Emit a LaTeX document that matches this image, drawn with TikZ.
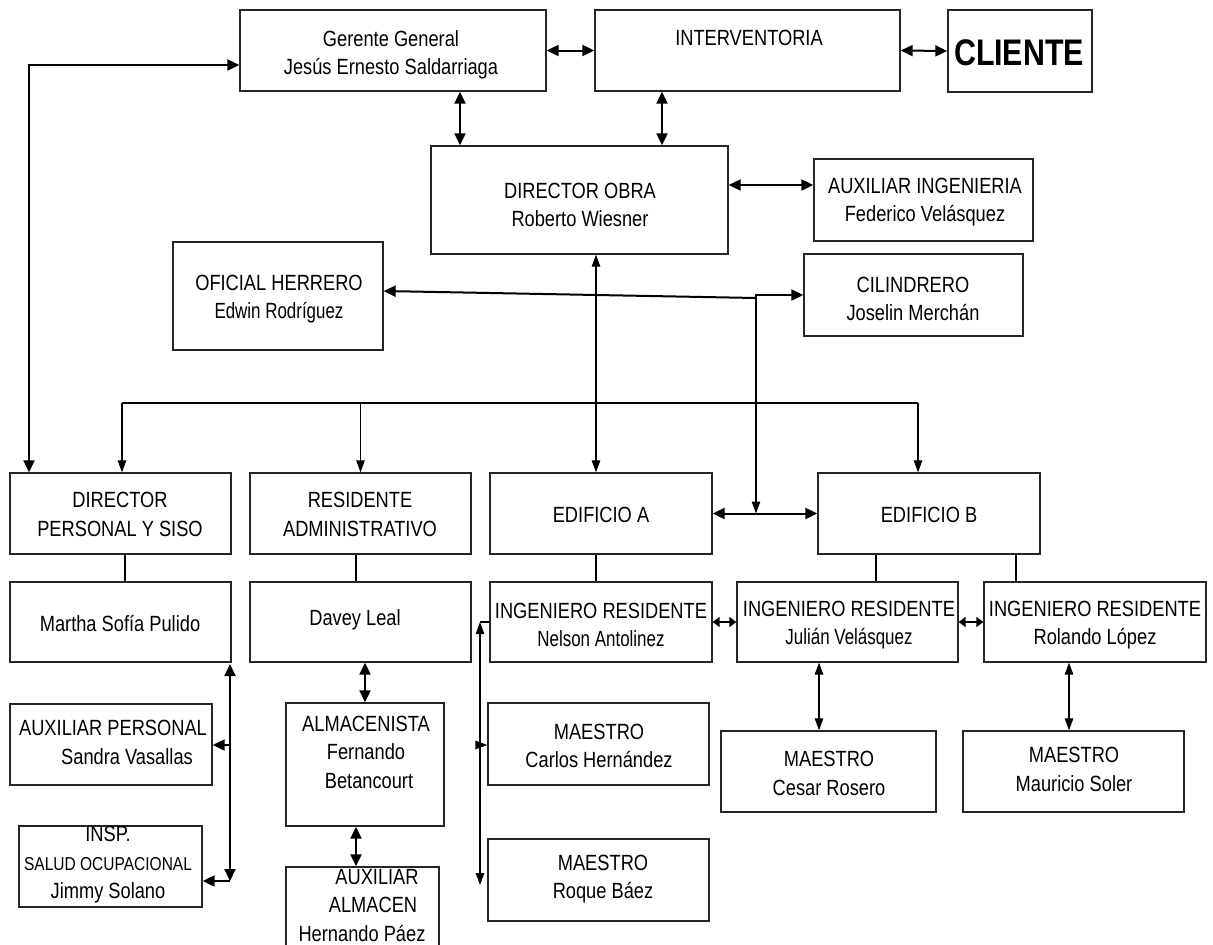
\documentclass[tikz,border=0pt]{standalone}
\usepackage{fontspec}
\setmainfont{Liberation Sans}[FakeStretch=0.83]
\newfontfamily\condfont{Liberation Sans}[FakeStretch=0.77]
\newfontfamily\boldcond{Liberation Sans}[FakeStretch=0.82,UprightFont=* Bold]
\usetikzlibrary{arrows.meta,calc}
\begin{document}
\begin{tikzpicture}[x=1pt,y=-1pt,
  box/.style={draw=black!85,line width=1.3pt,rectangle,inner sep=0pt},
  txt/.style={align=center,inner sep=0pt,font=\fontsize{22}{28.5}\selectfont},
  thk/.style={line width=2pt,>={Triangle[length=12pt,width=11pt]}},
  shortarr/.style={line width=2pt,>={Triangle[length=7pt,width=10pt]}},
  thn/.style={line width=1.1pt,>={Triangle[length=12pt,width=8.5pt]}},
  stub/.style={line width=1.1pt}]
\useasboundingbox (0,0) rectangle (1213,945);

% ---- boxes ----
\node[box,minimum width=306pt,minimum height=81pt] (gg) at (393,50.5) {};
\node[box,minimum width=305pt,minimum height=81pt] (iv) at (747.5,50.5) {};
\node[box,minimum width=144pt,minimum height=82pt] (cl) at (1020,51) {};
\node[box,minimum width=297pt,minimum height=108pt] (do) at (579.5,200) {};
\node[box,minimum width=219pt,minimum height=82pt] (ai) at (923.5,200) {};
\node[box,minimum width=210pt,minimum height=108pt] (oh) at (278,296) {};
\node[box,minimum width=219pt,minimum height=82pt] (ci) at (913.5,295) {};
\node[box,minimum width=221pt,minimum height=81pt] (dp) at (120.5,513.5) {};
\node[box,minimum width=221pt,minimum height=81pt] (ra) at (360.5,513.5) {};
\node[box,minimum width=222pt,minimum height=81pt] (ea) at (601,513.5) {};
\node[box,minimum width=222pt,minimum height=81pt] (eb) at (929,513.5) {};
\node[box,minimum width=221pt,minimum height=80pt] (mp) at (120.5,622) {};
\node[box,minimum width=221pt,minimum height=80pt] (dl) at (360.5,622) {};
\node[box,minimum width=222pt,minimum height=80pt] (r1) at (601,622) {};
\node[box,minimum width=221pt,minimum height=80pt] (r2) at (847.5,622) {};
\node[box,minimum width=222pt,minimum height=80pt] (r3) at (1095,622) {};
\node[box,minimum width=202pt,minimum height=81pt] (ap) at (111,744.5) {};
\node[box,minimum width=158pt,minimum height=123pt] (al) at (365,764.5) {};
\node[box,minimum width=221pt,minimum height=82pt] (mc) at (598.5,744) {};
\node[box,minimum width=215pt,minimum height=81pt] (ms) at (828.5,771.5) {};
\node[box,minimum width=221pt,minimum height=81pt] (mm) at (1073.5,771.5) {};
\node[box,minimum width=183pt,minimum height=81pt] (is) at (110.5,866.5) {};
\node[box,minimum width=153pt,minimum height=86pt] (aa) at (362.5,910) {};
\node[box,minimum width=221pt,minimum height=82pt] (mr) at (598.5,880) {};

% ---- texts ----
\node[txt] (tgg) at (391,55) {Gerente General\\Jesús Ernesto Saldarriaga};
\node[txt] (tiv) at (749,38) {INTERVENTORIA};
\node[inner sep=0pt,font=\boldcond\fontsize{37}{40}\selectfont] (tcl) at (1019,53) {CLIENTE};
\node[txt] (tdo) at (580,205) {DIRECTOR OBRA\\Roberto Wiesner};
\node[txt] (tai) at (925,202) {AUXILIAR INGENIERIA\\Federico Velásquez};
\node[txt] (toh) at (279,299) {OFICIAL HERRERO\\{\condfont Edwin Rodríguez}};
\node[txt] (tci) at (913,299) {CILINDRERO\\Joselin Merchán};
\node[txt] (tdp) at (120,514.5) {DIRECTOR\\PERSONAL Y SISO};
\node[txt] (tra) at (360,514.5) {RESIDENTE\\ADMINISTRATIVO};
\node[txt] (tea) at (601,515) {EDIFICIO A};
\node[txt] (teb) at (929,515) {EDIFICIO B};
\node[txt] (tmp) at (120,623) {Martha Sofía Pulido};
\node[txt] (tdl) at (355,620) {Davey Leal};
\node[txt] (tr1) at (601,625) {INGENIERO RESIDENTE\\{\condfont Nelson Antolinez}};
\node[txt] (tr2) at (849,625) {INGENIERO RESIDENTE\\{\condfont Julián Velásquez}};
\node[txt] (tr3) at (1095,625) {INGENIERO RESIDENTE\\Rolando López};
\node[txt] (tap) at (113,742.5) {AUXILIAR PERSONAL\\\hspace*{28pt}Sandra Vasallas};
\node[txt] (tal) at (366,752) {ALMACENISTA\\Fernando\\\hspace*{6pt}Betancourt};
\node[txt] (tmc) at (599,746) {MAESTRO\\Carlos Hernández};
\node[txt] (tms) at (829,773.5) {MAESTRO\\Cesar Rosero};
\node[txt] (tmm) at (1074,769.5) {MAESTRO\\Mauricio Soler};
\node[txt] (tis) at (108,865) {INSP.\\{\fontsize{18.7}{27}\selectfont SALUD OCUPACIONAL}\\Jimmy Solano};
\node[txt] (taa) at (362,905.5) {\hspace*{30pt}AUXILIAR\\\hspace*{22pt}ALMACEN\\Hernando Páez};
\node[txt] (tmr) at (603,879) {MAESTRO\\Roque Báez};

% ---- junction points ----
\coordinate (lft) at (29,65);
\coordinate (hj) at (756,298);
\coordinate (busL) at (122,403);
\coordinate (busR) at (918,403);
\coordinate (mpv) at (230,664);
\coordinate (mpa) at (230,745);
\coordinate (mpb) at (230,881);
\coordinate (rv) at (480,622);
\coordinate (rva) at (480,745);
\coordinate (rvb) at (480,885);

% ---- connectors: top levels ----
\draw[thk,<->] (gg.east) -- (iv.west);
\draw[thk,<->] (iv.east) -- (cl.west);
\draw[thk,<->] ([xshift=67pt]gg.south) -- ([xshift=67pt]gg.south |- do.north);
\draw[thk,<->] ([xshift=-85.5pt]iv.south) -- ([xshift=-85.5pt]iv.south |- do.north);
\draw[thk,<->] (dp.north -| lft) -- (lft) -- (lft -| gg.west);
\draw[thk,<->] ([yshift=15pt]do.east) -- ([yshift=15pt]do.east -| ai.west);

% herrero / cilindrero line and its drop to the buildings
\draw[thk,<-] ([yshift=5pt]oh.east) -- (hj);
\draw[thk,->] (hj) -- (hj |- ci.west) -- (ci.west);
\draw[thn,->] (hj) -- (hj |- ea.east);

% director obra down to edificio A
\draw[thn,<->] ([xshift=16.5pt]do.south) -- ([xshift=16.5pt]do.south |- ea.north);

% distribution bus
\draw[stub] (busL) -- (busR);
\draw[thn,->] (busL) -- (busL |- dp.north);
\draw[thn,->] (ra.north |- busL) -- (ra.north);
\draw[thn,->] (busR) -- (busR |- eb.north);

\draw[thk,<->] (ea.east) -- (eb.west);

% stubs between title boxes and name boxes
\draw[stub] ([xshift=4.5pt]dp.south) -- ([xshift=4.5pt]dp.south |- mp.north);
\draw[stub] ([xshift=-4.5pt]ra.south) -- ([xshift=-4.5pt]ra.south |- dl.north);
\draw[stub] ([xshift=-5pt]ea.south) -- ([xshift=-5pt]ea.south |- r1.north);
\draw[stub] ([xshift=-53pt]eb.south) -- ([xshift=-53pt]eb.south |- r2.north);
\draw[stub] ([xshift=87pt]eb.south) -- ([xshift=87pt]eb.south |- r3.north);

% personal branch
\draw[thk,<->] (mpv) -- (mpb);
\draw[thk,->] (mpa) -- (mpa -| ap.east);
\draw[thk,->] (mpb) -- (mpb -| is.east);

% almacen branch
\draw[thk,<->] (al.north |- dl.south) -- (al.north);
\draw[thk,<->] ([xshift=-9pt]al.south) -- ([xshift=-9pt]al.south |- aa.north);

% maestros of edificio A
\draw[stub] (r1.west |- rv) -- (rv);
\draw[thn,<->] (rv) -- (rvb);
\draw[thn,->] (rva) -- (rva -| mc.west);

% ingenieros residentes
\draw[shortarr,<->] (r1.east) -- (r2.west);
\draw[shortarr,<->] (r2.east) -- (r3.west);
\draw[thn,<->] ([xshift=-28.5pt]r2.south) -- ([xshift=-28.5pt]r2.south |- ms.north);
\draw[thn,<->] ([xshift=-26pt]r3.south) -- ([xshift=-26pt]r3.south |- mm.north);
\end{tikzpicture}
\end{document}
